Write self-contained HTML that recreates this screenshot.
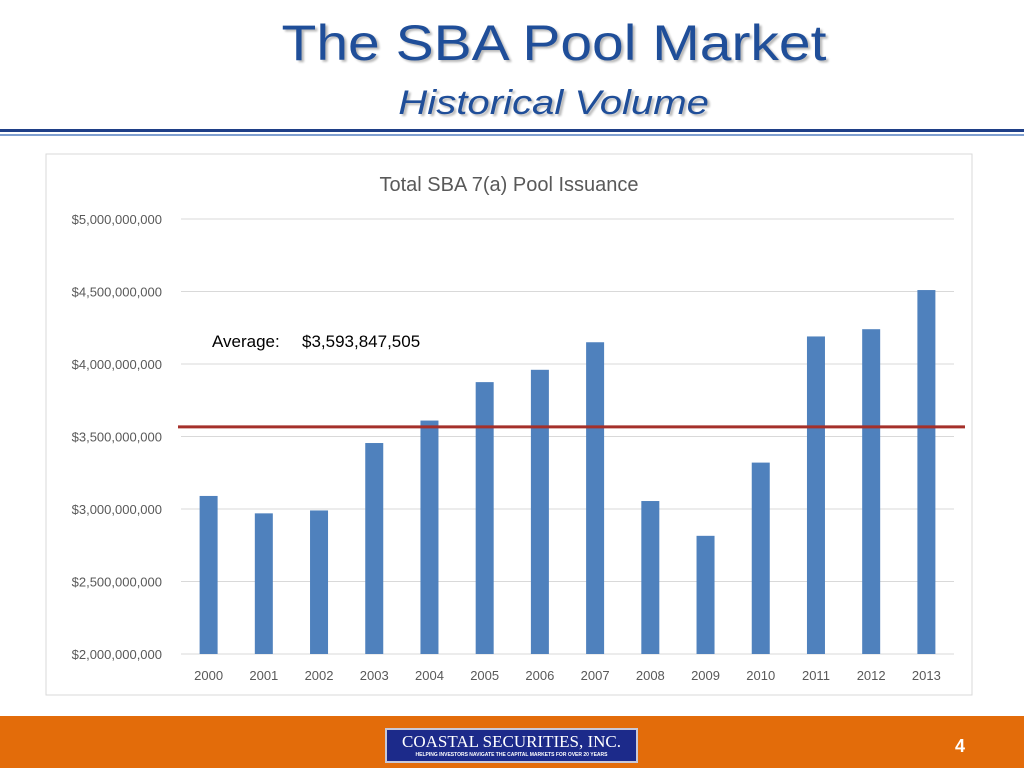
<!DOCTYPE html>
<html><head><meta charset="utf-8"><style>
body{margin:0;width:1024px;height:768px;background:#fff;position:relative;overflow:hidden;font-family:"Liberation Sans",sans-serif}
.t{position:absolute;left:0;width:1108px;text-align:center;color:#1f4e99;text-shadow:2px 2px 2px #b8b8b8}
.t span{display:inline-block}
</style></head><body>
<div class="t" style="top:14px;font-size:50px"><span style="transform:scaleX(1.14)">The SBA Pool Market</span></div>
<div class="t" style="top:84px;font-size:34px;font-style:italic"><span style="transform:scaleX(1.18)">Historical Volume</span></div>
<div style="position:absolute;left:0;top:129px;width:1024px;height:3px;background:#1f3f87"></div>
<div style="position:absolute;left:0;top:134px;width:1024px;height:2px;background:#7f9fd0"></div>
<svg id="chart" width="1024" height="768" style="position:absolute;left:0;top:0">
<rect x="46" y="154" width="926" height="541" fill="#fff" stroke="#d9d9d9"/>
<text x="509" y="191" text-anchor="middle" font-size="20" fill="#595959">Total SBA 7(a) Pool Issuance</text>
<text x="212" y="347" font-size="17" fill="#000">Average:</text>
<text x="302" y="347" font-size="17" fill="#000">$3,593,847,505</text>
</svg>
<div style="position:absolute;left:0;top:716px;width:1024px;height:52px;background:#e36c0a"></div>
<div style="position:absolute;left:385px;top:728px;width:253px;height:35px;background:#1c2a8a;border:2px solid #c8c8d8;box-sizing:border-box;color:#fff;text-align:center;font-family:'Liberation Serif',serif">
<div style="font-size:17px;line-height:20px;margin-top:2px">COASTAL SECURITIES, INC.</div>
<div style="font-size:5px;line-height:7px;font-family:'Liberation Sans',sans-serif;font-weight:bold">HELPING INVESTORS NAVIGATE THE CAPITAL MARKETS FOR OVER 20 YEARS</div></div>
<div style="position:absolute;left:955px;top:736px;color:#fff;font-size:18px;font-weight:bold">4</div>
<script>
const years=["2000","2001","2002","2003","2004","2005","2006","2007","2008","2009","2010","2011","2012","2013"];
const volumes=[3.09e9,2.97e9,2.99e9,3.455e9,3.61e9,3.875e9,3.96e9,4.15e9,3.055e9,2.815e9,3.32e9,4.19e9,4.24e9,4.51e9];
const ticks=[2e9,2.5e9,3e9,3.5e9,4e9,4.5e9,5e9];
const tickLabels=["$2,000,000,000","$2,500,000,000","$3,000,000,000","$3,500,000,000","$4,000,000,000","$4,500,000,000","$5,000,000,000"];
const averageLine=[3.566e9];
const svg=document.getElementById('chart'),NS='http://www.w3.org/2000/svg';
const L=181,R=954,T=219,B=654,ymin=2e9,ymax=5e9;
const y=v=>B-(v-ymin)/(ymax-ymin)*(B-T);
const band=(R-L)/years.length;
const x=i=>L+band*(i+0.5);
function mk(t,a){const e=document.createElementNS(NS,t);for(const k in a)e.setAttribute(k,a[k]);svg.appendChild(e);return e;}
ticks.forEach((v,i)=>{
 const g=mk('line',{x1:L,x2:R,y1:y(v),y2:y(v),stroke:'#d9d9d9'});
 
 
 const t=mk('text',{x:162,y:y(v)+5,'text-anchor':'end','font-size':13,fill:'#595959'});t.textContent=tickLabels[i];
 
 
});
years.forEach((yr,i)=>{
 const b=mk('rect',{x:x(i)-9,y:y(volumes[i]),width:18,height:B-y(volumes[i]),fill:'#4f81bd'});
 
 
 const t=mk('text',{x:x(i),y:680,'text-anchor':'middle','font-size':13,fill:'#595959'});t.textContent=yr;
 
 
});
const al=mk('line',{x1:178,x2:965,y1:y(averageLine[0]),y2:y(averageLine[0]),stroke:'#a5302a','stroke-width':3});


</script>
</body></html>
